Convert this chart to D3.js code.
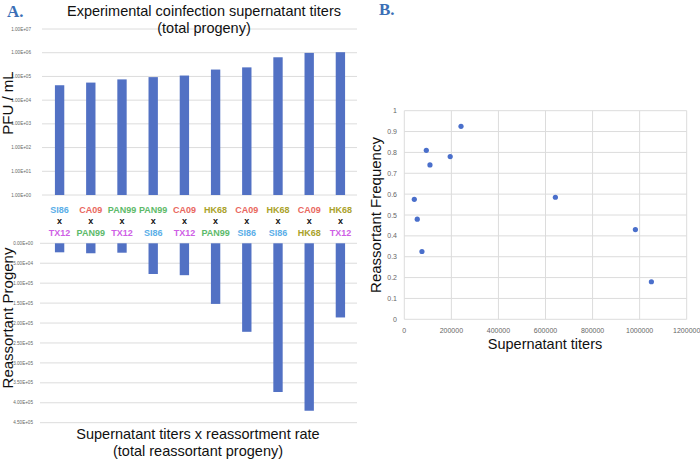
<!DOCTYPE html>
<html><head><meta charset="utf-8">
<script src="https://cdn.jsdelivr.net/npm/d3@7"></script>
<style>body{margin:0;background:#fff}svg{display:block;font-family:"Liberation Sans",Arial,Helvetica,sans-serif}</style>
</head><body><svg id="c" width="700" height="461"></svg>
<script>
// ---- data ----
const strainA = ["SI86","CA09","PAN99","PAN99","CA09","HK68","CA09","HK68","CA09","HK68"];
const strainB = ["TX12","PAN99","TX12","SI86","TX12","PAN99","SI86","SI86","HK68","TX12"];
const titers = [42500, 55000, 75000, 93500, 109000, 195000, 241000, 642000, 982000, 1050000];
const reassortantProgeny = [22600, 25000, 23600, 77000, 80000, 152000, 222000, 373000, 420000, 186000];
const frequency = [0.575, 0.48, 0.325, 0.81, 0.74, 0.78, 0.925, 0.585, 0.43, 0.18];
const logTicks = [1,10,100,1000,10000,100000,1000000,10000000];
const linTicks = [0,50000,100000,150000,200000,250000,300000,350000,400000,450000];
const scatterXTicks = [0,200000,400000,600000,800000,1000000,1200000];
const scatterYTicks = [0,0.1,0.2,0.3,0.4,0.5,0.6,0.7,0.8,0.9,1];
const strainColor = {SI86:"#5aaee8", CA09:"#e9675e", PAN99:"#5dba6a", HK68:"#aaa22a", TX12:"#cf5fe6"};

const svg = d3.select("#c");
const barColor = "#5271c4";
const grid = "#dcdcdc";
const idx = d3.range(strainA.length);

// ---- panel A ----
const x = d3.scaleBand().domain(idx).range([44,356]).paddingInner(0.7).paddingOuter(0.35);
const yTop = d3.scaleLog().domain([1,1e7]).range([195,29]);
const yBot = d3.scaleLinear().domain([0,450000]).range([243.3,422.7]);

const fmtE = v => { const e = v===0?0:Math.floor(Math.log10(v)); const m = v===0?0:v/Math.pow(10,e); return m.toFixed(2)+"E+"+String(e).padStart(2,"0"); };

// top grid
const gTop = svg.append("g");
gTop.selectAll("line").data(logTicks).join("line")
  .attr("x1",42).attr("x2",357).attr("y1",d=>yTop(d)).attr("y2",d=>yTop(d))
  .attr("stroke",grid).attr("stroke-width",1);
gTop.selectAll("text").data(logTicks).join("text")
  .attr("x",31).attr("y",d=>yTop(d)+1.6).attr("text-anchor","end")
  .attr("font-size",4.6).attr("fill","#666").text(d=>fmtE(d));
svg.append("g").selectAll("rect").data(idx).join("rect")
  .attr("x",i=>x(i)).attr("width",x.bandwidth())
  .attr("y",i=>yTop(titers[i])).attr("height",i=>yTop(1)-yTop(titers[i]))
  .attr("fill",barColor);

// bottom grid
const gBot = svg.append("g");
gBot.selectAll("line").data(linTicks).join("line")
  .attr("x1",40).attr("x2",357).attr("y1",d=>yBot(d)).attr("y2",d=>yBot(d))
  .attr("stroke",grid).attr("stroke-width",1);
gBot.selectAll("text").data(linTicks).join("text")
  .attr("x",33).attr("y",d=>yBot(d)+1.6).attr("text-anchor","end")
  .attr("font-size",4.6).attr("fill","#666").text(d=>fmtE(d));
svg.append("g").selectAll("rect").data(idx).join("rect")
  .attr("x",i=>x(i)).attr("width",x.bandwidth())
  .attr("y",yBot(0)).attr("height",i=>yBot(reassortantProgeny[i])-yBot(0))
  .attr("fill",barColor);

// category labels
const gl = svg.append("g").attr("font-size",9).attr("font-weight","bold").attr("text-anchor","middle");
idx.forEach(i=>{
  const cx = x(i)+x.bandwidth()/2;
  gl.append("text").attr("x",cx).attr("y",212.5).attr("fill",strainColor[strainA[i]]).text(strainA[i]);
  gl.append("text").attr("x",cx).attr("y",224).attr("fill","#111").text("x");
  gl.append("text").attr("x",cx).attr("y",235.5).attr("fill",strainColor[strainB[i]]).text(strainB[i]);
});

// titles
svg.append("text").attr("x",204).attr("y",16).attr("text-anchor","middle").attr("font-size",14.5).attr("fill","#111")
  .text("Experimental coinfection supernatant titers");
svg.append("text").attr("x",204).attr("y",33).attr("text-anchor","middle").attr("font-size",14.5).attr("fill","#111")
  .text("(total progeny)");
svg.append("text").attr("x",198).attr("y",439).attr("text-anchor","middle").attr("font-size",14.5).attr("fill","#111")
  .text("Supernatant titers x reassortment rate");
svg.append("text").attr("x",198).attr("y",456).attr("text-anchor","middle").attr("font-size",14.5).attr("fill","#111")
  .text("(total reassortant progeny)");
svg.append("text").attr("transform","translate(13,103) rotate(-90)").attr("text-anchor","middle").attr("font-size",15).attr("fill","#111").text("PFU / mL");
svg.append("text").attr("transform","translate(13,318) rotate(-90)").attr("text-anchor","middle").attr("font-size",15).attr("fill","#111").text("Reassortant Progeny");

svg.append("text").attr("x",7).attr("y",17).attr("font-family","'Liberation Serif','DejaVu Serif',serif").attr("font-weight","bold").attr("font-size",17).attr("fill","#3b6fb6").text("A.");
svg.append("text").attr("x",379).attr("y",15).attr("font-family","'Liberation Serif','DejaVu Serif',serif").attr("font-weight","bold").attr("font-size",17).attr("fill","#3b6fb6").text("B.");

// ---- panel B ----
const sx = d3.scaleLinear().domain([0,1200000]).range([404.3,686.7]);
const sy = d3.scaleLinear().domain([0,1]).range([319.3,110.7]);
const gs = svg.append("g");
gs.selectAll("line.v").data(scatterXTicks).join("line").attr("class","v")
  .attr("x1",d=>sx(d)).attr("x2",d=>sx(d)).attr("y1",sy(0)).attr("y2",sy(1))
  .attr("stroke",grid).attr("stroke-width",1);
gs.selectAll("line.h").data(scatterYTicks).join("line").attr("class","h")
  .attr("x1",sx(0)).attr("x2",sx(1200000)).attr("y1",d=>sy(d)).attr("y2",d=>sy(d))
  .attr("stroke",grid).attr("stroke-width",1);
gs.selectAll("text.x").data(scatterXTicks).join("text").attr("class","x")
  .attr("x",d=>sx(d)).attr("y",333).attr("text-anchor","middle").attr("font-size",7).attr("fill","#666").text(d=>d);
gs.selectAll("text.y").data(scatterYTicks).join("text").attr("class","y")
  .attr("x",397).attr("y",d=>sy(d)+2.5).attr("text-anchor","end").attr("font-size",7).attr("fill","#666").text(d=>d);
gs.selectAll("circle").data(idx).join("circle")
  .attr("cx",i=>sx(titers[i])).attr("cy",i=>sy(frequency[i])).attr("r",2.6).attr("fill","#4a6fcb");
svg.append("text").attr("x",545).attr("y",349).attr("text-anchor","middle").attr("font-size",14.5).attr("fill","#111").text("Supernatant titers");
svg.append("text").attr("transform","translate(381,215) rotate(-90)").attr("text-anchor","middle").attr("font-size",15).attr("fill","#111").text("Reassortant Frequency");
</script></body></html>
